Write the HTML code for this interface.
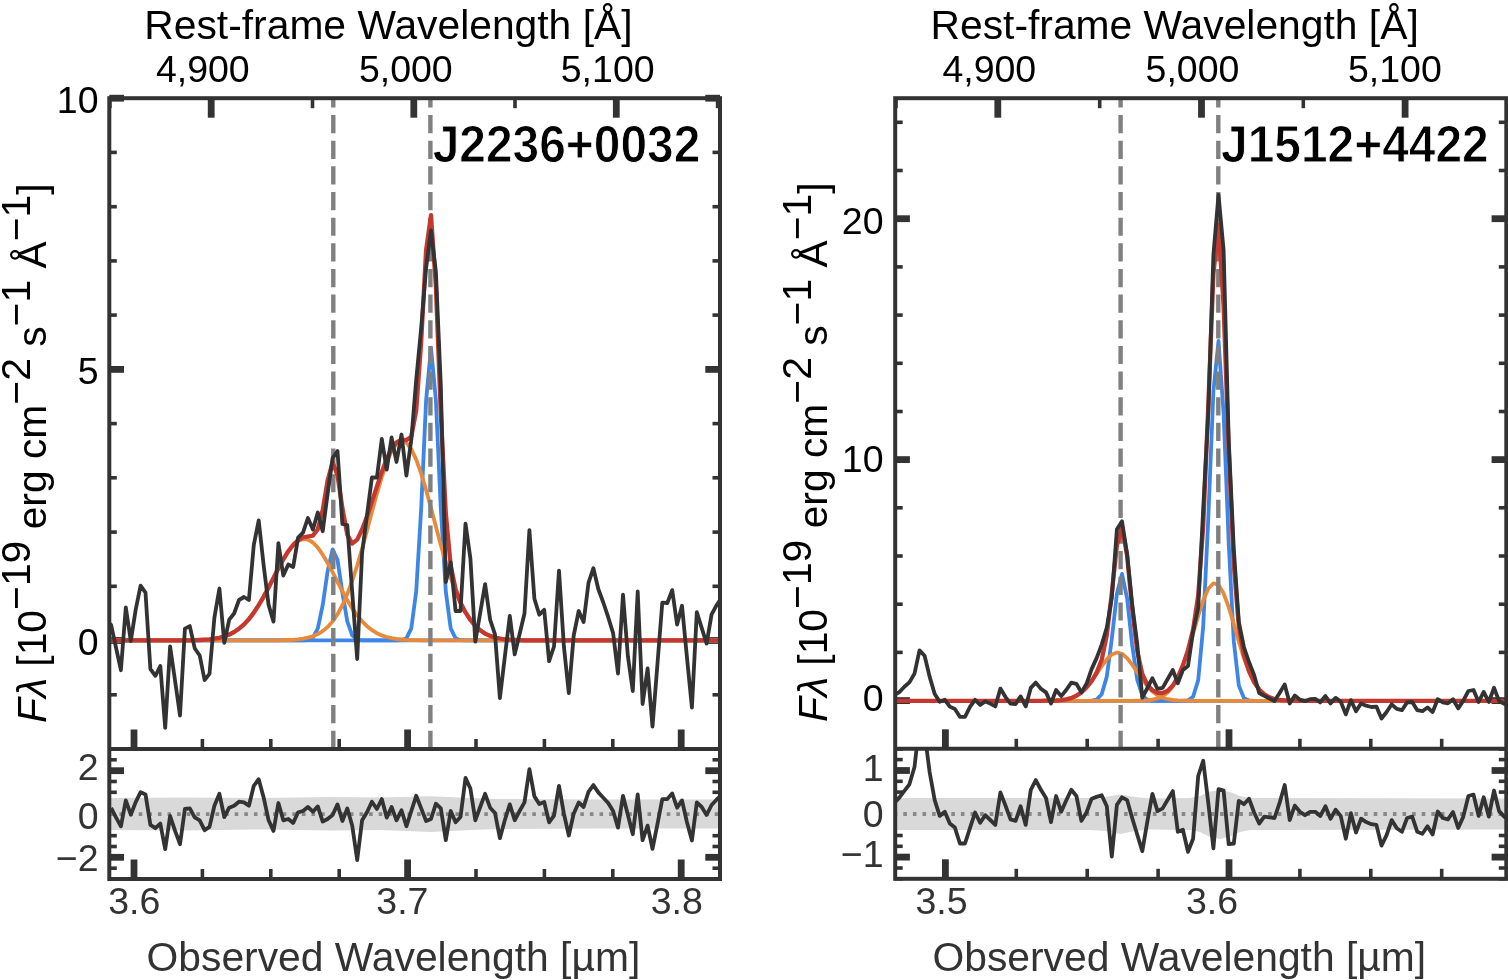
<!DOCTYPE html><html><head><meta charset="utf-8"><style>html,body{margin:0;padding:0;background:#fff;}svg{display:block;}</style></head><body><svg width="1508" height="980" viewBox="0 0 1508 980" font-family="'Liberation Sans', Arial, Helvetica, sans-serif">
<rect x="0" y="0" width="1508" height="980" fill="#fff"/>
<defs><clipPath id="c0"><rect x="109.3" y="98.2" width="610.7" height="650.8"/></clipPath><clipPath id="r0"><rect x="109.3" y="749.0" width="610.7" height="130.0"/></clipPath></defs>
<line x1="134.0" y1="749.0" x2="134.0" y2="729.5" stroke="#333333" stroke-width="6.8"/>
<line x1="134.0" y1="879.0" x2="134.0" y2="859.5" stroke="#333333" stroke-width="6.8"/>
<line x1="202.4" y1="749.0" x2="202.4" y2="739.0" stroke="#333333" stroke-width="3.6"/>
<line x1="202.4" y1="879.0" x2="202.4" y2="869.0" stroke="#333333" stroke-width="3.6"/>
<line x1="270.8" y1="749.0" x2="270.8" y2="739.0" stroke="#333333" stroke-width="3.6"/>
<line x1="270.8" y1="879.0" x2="270.8" y2="869.0" stroke="#333333" stroke-width="3.6"/>
<line x1="339.2" y1="749.0" x2="339.2" y2="739.0" stroke="#333333" stroke-width="3.6"/>
<line x1="339.2" y1="879.0" x2="339.2" y2="869.0" stroke="#333333" stroke-width="3.6"/>
<line x1="407.6" y1="749.0" x2="407.6" y2="729.5" stroke="#333333" stroke-width="6.8"/>
<line x1="407.6" y1="879.0" x2="407.6" y2="859.5" stroke="#333333" stroke-width="6.8"/>
<line x1="476.0" y1="749.0" x2="476.0" y2="739.0" stroke="#333333" stroke-width="3.6"/>
<line x1="476.0" y1="879.0" x2="476.0" y2="869.0" stroke="#333333" stroke-width="3.6"/>
<line x1="544.4" y1="749.0" x2="544.4" y2="739.0" stroke="#333333" stroke-width="3.6"/>
<line x1="544.4" y1="879.0" x2="544.4" y2="869.0" stroke="#333333" stroke-width="3.6"/>
<line x1="612.8" y1="749.0" x2="612.8" y2="739.0" stroke="#333333" stroke-width="3.6"/>
<line x1="612.8" y1="879.0" x2="612.8" y2="869.0" stroke="#333333" stroke-width="3.6"/>
<line x1="681.2" y1="749.0" x2="681.2" y2="729.5" stroke="#333333" stroke-width="6.8"/>
<line x1="681.2" y1="879.0" x2="681.2" y2="859.5" stroke="#333333" stroke-width="6.8"/>
<line x1="109.9" y1="98.2" x2="109.9" y2="108.2" stroke="#333333" stroke-width="3.6"/>
<line x1="211.2" y1="98.2" x2="211.2" y2="117.7" stroke="#333333" stroke-width="6.8"/>
<line x1="312.5" y1="98.2" x2="312.5" y2="108.2" stroke="#333333" stroke-width="3.6"/>
<line x1="413.8" y1="98.2" x2="413.8" y2="117.7" stroke="#333333" stroke-width="6.8"/>
<line x1="515.0" y1="98.2" x2="515.0" y2="108.2" stroke="#333333" stroke-width="3.6"/>
<line x1="616.3" y1="98.2" x2="616.3" y2="117.7" stroke="#333333" stroke-width="6.8"/>
<line x1="717.6" y1="98.2" x2="717.6" y2="108.2" stroke="#333333" stroke-width="3.6"/>
<line x1="109.3" y1="749.0" x2="116.8" y2="749.0" stroke="#333333" stroke-width="3.6"/>
<line x1="720.0" y1="749.0" x2="712.5" y2="749.0" stroke="#333333" stroke-width="3.6"/>
<line x1="109.3" y1="694.8" x2="116.8" y2="694.8" stroke="#333333" stroke-width="3.6"/>
<line x1="720.0" y1="694.8" x2="712.5" y2="694.8" stroke="#333333" stroke-width="3.6"/>
<line x1="109.3" y1="640.5" x2="124.0" y2="640.5" stroke="#333333" stroke-width="6.8"/>
<line x1="720.0" y1="640.5" x2="705.3" y2="640.5" stroke="#333333" stroke-width="6.8"/>
<line x1="109.3" y1="586.3" x2="116.8" y2="586.3" stroke="#333333" stroke-width="3.6"/>
<line x1="720.0" y1="586.3" x2="712.5" y2="586.3" stroke="#333333" stroke-width="3.6"/>
<line x1="109.3" y1="532.1" x2="116.8" y2="532.1" stroke="#333333" stroke-width="3.6"/>
<line x1="720.0" y1="532.1" x2="712.5" y2="532.1" stroke="#333333" stroke-width="3.6"/>
<line x1="109.3" y1="477.8" x2="116.8" y2="477.8" stroke="#333333" stroke-width="3.6"/>
<line x1="720.0" y1="477.8" x2="712.5" y2="477.8" stroke="#333333" stroke-width="3.6"/>
<line x1="109.3" y1="423.6" x2="116.8" y2="423.6" stroke="#333333" stroke-width="3.6"/>
<line x1="720.0" y1="423.6" x2="712.5" y2="423.6" stroke="#333333" stroke-width="3.6"/>
<line x1="109.3" y1="369.4" x2="124.0" y2="369.4" stroke="#333333" stroke-width="6.8"/>
<line x1="720.0" y1="369.4" x2="705.3" y2="369.4" stroke="#333333" stroke-width="6.8"/>
<line x1="109.3" y1="315.1" x2="116.8" y2="315.1" stroke="#333333" stroke-width="3.6"/>
<line x1="720.0" y1="315.1" x2="712.5" y2="315.1" stroke="#333333" stroke-width="3.6"/>
<line x1="109.3" y1="260.9" x2="116.8" y2="260.9" stroke="#333333" stroke-width="3.6"/>
<line x1="720.0" y1="260.9" x2="712.5" y2="260.9" stroke="#333333" stroke-width="3.6"/>
<line x1="109.3" y1="206.7" x2="116.8" y2="206.7" stroke="#333333" stroke-width="3.6"/>
<line x1="720.0" y1="206.7" x2="712.5" y2="206.7" stroke="#333333" stroke-width="3.6"/>
<line x1="109.3" y1="152.4" x2="116.8" y2="152.4" stroke="#333333" stroke-width="3.6"/>
<line x1="720.0" y1="152.4" x2="712.5" y2="152.4" stroke="#333333" stroke-width="3.6"/>
<line x1="109.3" y1="98.2" x2="124.0" y2="98.2" stroke="#333333" stroke-width="6.8"/>
<line x1="720.0" y1="98.2" x2="705.3" y2="98.2" stroke="#333333" stroke-width="6.8"/>
<line x1="109.3" y1="879.0" x2="116.8" y2="879.0" stroke="#333333" stroke-width="3.6"/>
<line x1="720.0" y1="879.0" x2="712.5" y2="879.0" stroke="#333333" stroke-width="3.6"/>
<line x1="109.3" y1="868.2" x2="116.8" y2="868.2" stroke="#333333" stroke-width="3.6"/>
<line x1="720.0" y1="868.2" x2="712.5" y2="868.2" stroke="#333333" stroke-width="3.6"/>
<line x1="109.3" y1="857.3" x2="124.0" y2="857.3" stroke="#333333" stroke-width="6.8"/>
<line x1="720.0" y1="857.3" x2="705.3" y2="857.3" stroke="#333333" stroke-width="6.8"/>
<line x1="109.3" y1="846.5" x2="116.8" y2="846.5" stroke="#333333" stroke-width="3.6"/>
<line x1="720.0" y1="846.5" x2="712.5" y2="846.5" stroke="#333333" stroke-width="3.6"/>
<line x1="109.3" y1="835.7" x2="116.8" y2="835.7" stroke="#333333" stroke-width="3.6"/>
<line x1="720.0" y1="835.7" x2="712.5" y2="835.7" stroke="#333333" stroke-width="3.6"/>
<line x1="109.3" y1="824.8" x2="116.8" y2="824.8" stroke="#333333" stroke-width="3.6"/>
<line x1="720.0" y1="824.8" x2="712.5" y2="824.8" stroke="#333333" stroke-width="3.6"/>
<line x1="109.3" y1="814.0" x2="124.0" y2="814.0" stroke="#333333" stroke-width="6.8"/>
<line x1="720.0" y1="814.0" x2="705.3" y2="814.0" stroke="#333333" stroke-width="6.8"/>
<line x1="109.3" y1="803.2" x2="116.8" y2="803.2" stroke="#333333" stroke-width="3.6"/>
<line x1="720.0" y1="803.2" x2="712.5" y2="803.2" stroke="#333333" stroke-width="3.6"/>
<line x1="109.3" y1="792.3" x2="116.8" y2="792.3" stroke="#333333" stroke-width="3.6"/>
<line x1="720.0" y1="792.3" x2="712.5" y2="792.3" stroke="#333333" stroke-width="3.6"/>
<line x1="109.3" y1="781.5" x2="116.8" y2="781.5" stroke="#333333" stroke-width="3.6"/>
<line x1="720.0" y1="781.5" x2="712.5" y2="781.5" stroke="#333333" stroke-width="3.6"/>
<line x1="109.3" y1="770.7" x2="124.0" y2="770.7" stroke="#333333" stroke-width="6.8"/>
<line x1="720.0" y1="770.7" x2="705.3" y2="770.7" stroke="#333333" stroke-width="6.8"/>
<line x1="109.3" y1="759.8" x2="116.8" y2="759.8" stroke="#333333" stroke-width="3.6"/>
<line x1="720.0" y1="759.8" x2="712.5" y2="759.8" stroke="#333333" stroke-width="3.6"/>
<line x1="109.3" y1="749.0" x2="116.8" y2="749.0" stroke="#333333" stroke-width="3.6"/>
<line x1="720.0" y1="749.0" x2="712.5" y2="749.0" stroke="#333333" stroke-width="3.6"/>
<g clip-path="url(#c0)">
<polyline points="101.2,640.4 106.1,640.4 111.1,640.4 116.0,640.4 120.9,640.4 125.8,640.4 130.8,640.4 135.7,640.4 140.6,640.4 145.5,640.4 150.4,640.4 155.4,640.4 160.3,640.4 165.2,640.4 170.1,640.4 175.1,640.4 180.0,640.4 184.9,640.4 189.8,640.4 194.7,640.4 199.7,640.4 204.6,640.4 209.5,640.4 214.4,640.4 219.4,640.4 224.3,640.4 229.2,640.4 234.1,640.4 239.0,640.4 244.0,640.4 248.9,640.4 253.8,640.4 258.7,640.4 263.7,640.4 268.6,640.4 273.5,640.4 278.4,640.4 283.3,640.4 288.3,640.4 293.2,640.4 298.1,640.4 303.0,640.4 307.9,640.0 312.9,637.6 317.8,628.3 322.7,605.2 327.6,571.3 332.6,549.4 337.5,559.9 342.4,592.6 347.3,621.4 352.2,635.3 357.2,639.5 362.1,640.3 367.0,640.4 371.9,640.4 376.9,640.4 381.8,640.4 386.7,640.4 391.6,640.4 396.5,640.4 401.5,640.4 406.4,640.4 411.3,640.4 416.2,640.4 421.2,640.4 426.1,640.4 431.0,640.4 435.9,640.4 440.8,640.4 445.8,640.4 450.7,640.4 455.6,640.4 460.5,640.4 465.5,640.4 470.4,640.4 475.3,640.4 480.2,640.4 485.1,640.4 490.1,640.4 495.0,640.4 499.9,640.4 504.8,640.4 509.8,640.4 514.7,640.4 519.6,640.4 524.5,640.4 529.4,640.4 534.4,640.4 539.3,640.4 544.2,640.4 549.1,640.4 554.0,640.4 559.0,640.4 563.9,640.4 568.8,640.4 573.7,640.4 578.7,640.4 583.6,640.4 588.5,640.4 593.4,640.4 598.3,640.4 603.3,640.4 608.2,640.4 613.1,640.4 618.0,640.4 623.0,640.4 627.9,640.4 632.8,640.4 637.7,640.4 642.6,640.4 647.6,640.4 652.5,640.4 657.4,640.4 662.3,640.4 667.3,640.4 672.2,640.4 677.1,640.4 682.0,640.4 686.9,640.4 691.9,640.4 696.8,640.4 701.7,640.4 706.6,640.4 711.6,640.4 716.5,640.4 721.4,640.4 726.3,640.4" fill="none" stroke="#3d86e8" stroke-width="3.8" stroke-linejoin="round"/>
<polyline points="101.2,640.4 106.1,640.4 111.1,640.4 116.0,640.4 120.9,640.4 125.8,640.4 130.8,640.4 135.7,640.4 140.6,640.4 145.5,640.4 150.4,640.4 155.4,640.4 160.3,640.4 165.2,640.4 170.1,640.4 175.1,640.4 180.0,640.4 184.9,640.4 189.8,640.4 194.7,640.4 199.7,640.4 204.6,640.4 209.5,640.4 214.4,640.4 219.4,640.4 224.3,640.4 229.2,640.4 234.1,640.4 239.0,640.4 244.0,640.4 248.9,640.4 253.8,640.4 258.7,640.4 263.7,640.4 268.6,640.4 273.5,640.4 278.4,640.4 283.3,640.4 288.3,640.4 293.2,640.4 298.1,640.4 303.0,640.4 307.9,640.4 312.9,640.4 317.8,640.4 322.7,640.4 327.6,640.4 332.6,640.4 337.5,640.4 342.4,640.4 347.3,640.4 352.2,640.4 357.2,640.4 362.1,640.4 367.0,640.4 371.9,640.4 376.9,640.4 381.8,640.4 386.7,640.4 391.6,640.4 396.5,640.4 401.5,640.2 406.4,638.4 411.3,628.3 416.2,591.6 421.2,508.3 426.1,400.4 431.0,347.6 435.9,400.4 440.8,508.3 445.8,591.6 450.7,628.3 455.6,638.4 460.5,640.2 465.5,640.4 470.4,640.4 475.3,640.4 480.2,640.4 485.1,640.4 490.1,640.4 495.0,640.4 499.9,640.4 504.8,640.4 509.8,640.4 514.7,640.4 519.6,640.4 524.5,640.4 529.4,640.4 534.4,640.4 539.3,640.4 544.2,640.4 549.1,640.4 554.0,640.4 559.0,640.4 563.9,640.4 568.8,640.4 573.7,640.4 578.7,640.4 583.6,640.4 588.5,640.4 593.4,640.4 598.3,640.4 603.3,640.4 608.2,640.4 613.1,640.4 618.0,640.4 623.0,640.4 627.9,640.4 632.8,640.4 637.7,640.4 642.6,640.4 647.6,640.4 652.5,640.4 657.4,640.4 662.3,640.4 667.3,640.4 672.2,640.4 677.1,640.4 682.0,640.4 686.9,640.4 691.9,640.4 696.8,640.4 701.7,640.4 706.6,640.4 711.6,640.4 716.5,640.4 721.4,640.4 726.3,640.4" fill="none" stroke="#3d86e8" stroke-width="3.8" stroke-linejoin="round"/>
<polyline points="101.2,640.4 106.1,640.4 111.1,640.4 116.0,640.4 120.9,640.4 125.8,640.4 130.8,640.4 135.7,640.4 140.6,640.4 145.5,640.4 150.4,640.4 155.4,640.4 160.3,640.4 165.2,640.4 170.1,640.4 175.1,640.4 180.0,640.4 184.9,640.3 189.8,640.3 194.7,640.2 199.7,640.0 204.6,639.7 209.5,639.3 214.4,638.7 219.4,637.8 224.3,636.4 229.2,634.6 234.1,632.0 239.0,628.7 244.0,624.4 248.9,619.1 253.8,612.6 258.7,605.1 263.7,596.7 268.6,587.5 273.5,577.9 278.4,568.4 283.3,559.5 288.3,551.6 293.2,545.3 298.1,541.1 303.0,539.1 307.9,539.6 312.9,542.5 317.8,547.6 322.7,554.6 327.6,563.0 332.6,572.2 337.5,581.8 342.4,591.2 347.3,600.2 352.2,608.3 357.2,615.3 362.1,621.3 367.0,626.2 371.9,630.1 376.9,633.2 381.8,635.4 386.7,637.0 391.6,638.2 396.5,639.0 401.5,639.5 406.4,639.9 411.3,640.1 416.2,640.2 421.2,640.3 426.1,640.3 431.0,640.4 435.9,640.4 440.8,640.4 445.8,640.4 450.7,640.4 455.6,640.4 460.5,640.4 465.5,640.4 470.4,640.4 475.3,640.4 480.2,640.4 485.1,640.4 490.1,640.4 495.0,640.4 499.9,640.4 504.8,640.4 509.8,640.4 514.7,640.4 519.6,640.4 524.5,640.4 529.4,640.4 534.4,640.4 539.3,640.4 544.2,640.4 549.1,640.4 554.0,640.4 559.0,640.4 563.9,640.4 568.8,640.4 573.7,640.4 578.7,640.4 583.6,640.4 588.5,640.4 593.4,640.4 598.3,640.4 603.3,640.4 608.2,640.4 613.1,640.4 618.0,640.4 623.0,640.4 627.9,640.4 632.8,640.4 637.7,640.4 642.6,640.4 647.6,640.4 652.5,640.4 657.4,640.4 662.3,640.4 667.3,640.4 672.2,640.4 677.1,640.4 682.0,640.4 686.9,640.4 691.9,640.4 696.8,640.4 701.7,640.4 706.6,640.4 711.6,640.4 716.5,640.4 721.4,640.4 726.3,640.4" fill="none" stroke="#e88a3a" stroke-width="3.8" stroke-linejoin="round"/>
<polyline points="101.2,640.4 106.1,640.4 111.1,640.4 116.0,640.4 120.9,640.4 125.8,640.4 130.8,640.4 135.7,640.4 140.6,640.4 145.5,640.4 150.4,640.4 155.4,640.4 160.3,640.4 165.2,640.4 170.1,640.4 175.1,640.4 180.0,640.4 184.9,640.4 189.8,640.4 194.7,640.4 199.7,640.4 204.6,640.4 209.5,640.4 214.4,640.4 219.4,640.4 224.3,640.4 229.2,640.4 234.1,640.4 239.0,640.4 244.0,640.4 248.9,640.4 253.8,640.4 258.7,640.4 263.7,640.4 268.6,640.4 273.5,640.3 278.4,640.3 283.3,640.2 288.3,640.0 293.2,639.8 298.1,639.4 303.0,638.7 307.9,637.7 312.9,636.3 317.8,634.1 322.7,631.1 327.6,627.0 332.6,621.5 337.5,614.3 342.4,605.2 347.3,594.0 352.2,580.8 357.2,565.6 362.1,548.7 367.0,530.6 371.9,512.0 376.9,493.8 381.8,476.9 386.7,462.4 391.6,451.1 396.5,443.7 401.5,440.9 406.4,442.7 411.3,449.1 416.2,459.6 421.2,473.6 426.1,490.0 431.0,508.0 435.9,526.6 440.8,544.9 445.8,562.1 450.7,577.7 455.6,591.4 460.5,602.9 465.5,612.5 470.4,620.0 475.3,625.9 480.2,630.3 485.1,633.6 490.1,635.9 495.0,637.5 499.9,638.5 504.8,639.3 509.8,639.7 514.7,640.0 519.6,640.2 524.5,640.3 529.4,640.3 534.4,640.4 539.3,640.4 544.2,640.4 549.1,640.4 554.0,640.4 559.0,640.4 563.9,640.4 568.8,640.4 573.7,640.4 578.7,640.4 583.6,640.4 588.5,640.4 593.4,640.4 598.3,640.4 603.3,640.4 608.2,640.4 613.1,640.4 618.0,640.4 623.0,640.4 627.9,640.4 632.8,640.4 637.7,640.4 642.6,640.4 647.6,640.4 652.5,640.4 657.4,640.4 662.3,640.4 667.3,640.4 672.2,640.4 677.1,640.4 682.0,640.4 686.9,640.4 691.9,640.4 696.8,640.4 701.7,640.4 706.6,640.4 711.6,640.4 716.5,640.4 721.4,640.4 726.3,640.4" fill="none" stroke="#e88a3a" stroke-width="3.8" stroke-linejoin="round"/>
<line x1="333.3" y1="89.4" x2="333.3" y2="749.0" stroke="#808080" stroke-width="4.4" stroke-dasharray="18.2 7.45"/>
<line x1="430.4" y1="89.4" x2="430.4" y2="749.0" stroke="#808080" stroke-width="4.4" stroke-dasharray="18.2 7.45"/>
<polyline points="101.2,640.4 106.1,640.4 111.1,640.4 116.0,640.4 120.9,640.4 125.8,640.4 130.8,640.4 135.7,640.4 140.6,640.4 145.5,640.4 150.4,640.4 155.4,640.4 160.3,640.4 165.2,640.4 170.1,640.4 175.1,640.4 180.0,640.4 184.9,640.3 189.8,640.3 194.7,640.2 199.7,640.0 204.6,639.7 209.5,639.3 214.4,638.7 219.4,637.8 224.3,636.4 229.2,634.6 234.1,632.0 239.0,628.7 244.0,624.4 248.9,619.1 253.8,612.6 258.7,605.1 263.7,596.6 268.6,587.4 273.5,577.9 278.4,568.3 283.3,559.3 288.3,551.2 293.2,544.7 298.1,540.0 303.0,537.4 307.9,536.5 312.9,535.6 317.8,529.3 322.7,510.1 327.6,480.5 332.6,462.3 337.5,475.2 342.4,508.2 347.3,534.7 352.2,543.6 357.2,539.6 362.1,529.5 367.0,516.5 371.9,501.8 376.9,486.6 381.8,471.9 386.7,459.0 391.6,448.8 396.5,442.3 401.5,439.7 406.4,440.1 411.3,436.7 416.2,410.6 421.2,341.4 426.1,250.0 431.0,215.2 435.9,286.6 440.8,412.8 445.8,513.3 450.7,565.6 455.6,589.3 460.5,602.7 465.5,612.4 470.4,620.0 475.3,625.9 480.2,630.3 485.1,633.6 490.1,635.9 495.0,637.5 499.9,638.5 504.8,639.3 509.8,639.7 514.7,640.0 519.6,640.2 524.5,640.3 529.4,640.3 534.4,640.4 539.3,640.4 544.2,640.4 549.1,640.4 554.0,640.4 559.0,640.4 563.9,640.4 568.8,640.4 573.7,640.4 578.7,640.4 583.6,640.4 588.5,640.4 593.4,640.4 598.3,640.4 603.3,640.4 608.2,640.4 613.1,640.4 618.0,640.4 623.0,640.4 627.9,640.4 632.8,640.4 637.7,640.4 642.6,640.4 647.6,640.4 652.5,640.4 657.4,640.4 662.3,640.4 667.3,640.4 672.2,640.4 677.1,640.4 682.0,640.4 686.9,640.4 691.9,640.4 696.8,640.4 701.7,640.4 706.6,640.4 711.6,640.4 716.5,640.4 721.4,640.4 726.3,640.4" fill="none" stroke="#c4382f" stroke-width="4.3" stroke-linejoin="round"/>
<polyline points="106.1,620.0 111.1,624.9 116.0,647.5 120.9,670.2 125.8,607.3 130.8,641.0 135.7,609.6 140.6,585.7 145.5,592.6 150.4,669.0 155.4,675.8 160.3,666.0 165.2,727.8 170.1,646.5 175.1,681.0 180.0,715.5 184.9,628.6 189.8,626.1 194.7,648.2 199.7,655.5 204.6,680.0 209.5,673.9 214.4,617.6 219.4,588.5 224.3,642.9 229.2,619.6 234.1,613.5 239.0,600.0 244.0,597.0 248.9,600.0 253.8,544.9 258.7,520.4 263.7,565.7 268.6,604.9 273.5,621.6 278.4,543.2 283.3,575.5 288.3,564.5 293.2,567.0 298.1,537.6 303.0,532.7 307.9,518.0 312.9,529.5 317.8,512.5 322.7,531.2 327.6,494.0 332.6,458.0 337.5,451.0 342.4,524.0 347.3,525.0 352.2,592.0 357.2,659.0 362.1,553.0 367.0,515.2 371.9,477.5 376.9,477.7 381.8,439.0 386.7,469.6 391.6,437.5 396.5,462.0 401.5,434.5 406.4,475.6 411.3,439.8 416.2,380.0 421.2,328.0 426.1,268.0 431.0,230.5 435.9,272.0 440.8,385.0 445.8,582.0 450.7,562.4 455.6,611.0 460.5,611.0 465.5,523.6 470.4,558.4 475.3,641.6 480.2,612.9 485.1,584.1 490.1,619.6 495.0,634.3 499.9,698.0 504.8,657.0 509.8,615.9 514.7,654.4 519.6,634.0 524.5,613.5 529.4,530.2 534.4,598.8 539.3,614.7 544.2,609.8 549.1,661.2 554.0,646.5 559.0,570.6 563.9,646.5 568.8,693.1 573.7,635.5 578.7,611.0 583.6,622.0 588.5,582.9 593.4,568.2 598.3,589.0 603.3,602.5 608.2,617.2 613.1,633.1 618.0,673.5 623.0,594.6 627.9,656.3 632.8,691.0 637.7,591.5 642.6,704.0 647.6,668.5 652.5,726.7 657.4,664.7 662.3,602.7 667.3,603.0 672.2,590.1 677.1,624.5 682.0,605.8 686.9,656.7 691.9,707.6 696.8,612.1 701.7,627.9 706.6,643.6 711.6,614.4 716.5,605.4 721.4,598.0" fill="none" stroke="#333333" stroke-width="3.8" stroke-linejoin="round"/>
</g>
<g clip-path="url(#r0)">
<polygon points="105.0,798.0 180.0,797.5 260.0,798.0 333.0,797.0 380.0,797.5 431.0,796.2 470.0,798.0 500.0,799.0 600.0,799.5 725.0,799.5 725.0,828.5 600.0,828.5 500.0,829.0 470.0,830.0 431.0,832.0 380.0,830.0 333.0,830.5 260.0,829.5 180.0,830.5 105.0,830.0" fill="#d9d9d9"/>
<line x1="109.3" y1="814.2" x2="720.0" y2="814.2" stroke="#888888" stroke-width="3.8" stroke-dasharray="3.6 6.0" stroke-dashoffset="9.0"/>
<polyline points="111.1,808.0 116.0,817.4 120.9,826.3 125.8,800.4 130.8,814.7 135.7,802.1 140.6,792.2 145.5,794.4 150.4,824.9 155.4,828.2 160.3,823.6 165.2,849.2 170.1,816.0 175.1,830.9 180.0,844.2 184.9,809.0 189.8,808.4 194.7,817.4 199.7,820.3 204.6,830.2 209.5,826.9 214.4,805.7 219.4,793.8 224.3,817.0 229.2,807.7 234.1,805.7 239.0,801.7 244.0,802.4 248.9,805.7 253.8,785.8 258.7,779.2 263.7,797.7 268.6,820.3 273.5,830.9 278.4,803.0 283.3,820.3 288.3,819.0 293.2,822.9 298.1,812.3 303.0,811.0 307.9,807.0 312.9,811.7 317.8,806.4 322.7,821.6 327.6,819.0 332.6,815.0 337.5,804.4 342.4,821.0 347.3,808.4 352.2,825.6 357.2,860.1 362.1,820.3 367.0,812.3 371.9,801.7 376.9,809.0 381.8,799.1 386.7,817.6 391.6,807.0 396.5,820.3 401.5,810.3 406.4,826.3 411.3,811.0 416.2,795.8 421.2,808.4 426.1,821.0 431.0,819.0 435.9,803.7 440.8,808.4 445.8,840.2 450.7,811.0 455.6,822.3 460.5,817.0 465.5,777.9 470.4,788.5 475.3,820.3 480.2,807.0 485.1,793.8 490.1,807.7 495.0,813.0 499.9,838.2 504.8,820.3 509.8,804.4 514.7,820.3 519.6,811.0 524.5,802.4 529.4,769.2 534.4,796.4 539.3,804.0 544.2,802.0 549.1,822.3 554.0,815.6 559.0,785.8 563.9,813.7 568.8,835.5 573.7,813.7 578.7,802.4 583.6,807.0 588.5,791.8 593.4,785.1 598.3,792.4 603.3,797.7 608.2,803.0 613.1,811.0 618.0,827.6 623.0,795.8 627.9,815.0 632.8,834.2 637.7,794.4 642.6,840.2 647.6,825.6 652.5,848.8 657.4,824.3 662.3,799.1 667.3,799.0 672.2,793.5 677.1,807.7 682.0,800.4 686.9,822.0 691.9,840.5 696.8,802.4 701.7,807.0 706.6,815.0 711.6,805.0 716.5,799.7 721.4,795.0" fill="none" stroke="#333333" stroke-width="3.8" stroke-linejoin="round"/>
</g>
<rect x="109.3" y="98.2" width="610.7" height="780.8" fill="none" stroke="#333333" stroke-width="4"/>
<line x1="109.3" y1="749.0" x2="720.0" y2="749.0" stroke="#333333" stroke-width="4"/>
<text x="202.8" y="82" font-size="37.5" text-anchor="middle" fill="#000">4,900</text>
<text x="405.8" y="82" font-size="37.5" text-anchor="middle" fill="#000">5,000</text>
<text x="607.7" y="82" font-size="37.5" text-anchor="middle" fill="#000">5,100</text>
<text x="134.2" y="913.6" font-size="37.5" text-anchor="middle" fill="#333">3.6</text>
<text x="402.4" y="913.6" font-size="37.5" text-anchor="middle" fill="#333">3.7</text>
<text x="676.7" y="913.6" font-size="37.5" text-anchor="middle" fill="#333">3.8</text>
<text x="98.5" y="112.5" font-size="37.5" text-anchor="end" fill="#000">10</text>
<text x="98.5" y="384.1" font-size="37.5" text-anchor="end" fill="#000">5</text>
<text x="98.5" y="655.0" font-size="37.5" text-anchor="end" fill="#000">0</text>
<text x="98.5" y="779.8" font-size="37.5" text-anchor="end" fill="#333">2</text>
<text x="98.5" y="829.1" font-size="37.5" text-anchor="end" fill="#333">0</text>
<text x="98.5" y="870.5" font-size="37.5" text-anchor="end" fill="#333">−2</text>
<text x="144.3" y="39" font-size="40.8" fill="#000">Rest-frame Wavelength [Å]</text>
<text x="146.6" y="970.5" font-size="40.8" fill="#333">Observed Wavelength [µm]</text>
<text transform="translate(45.5,723) rotate(-90)" font-size="40.8" fill="#000"><tspan font-style="italic">Fλ</tspan> [10<tspan dy="-16">−19</tspan><tspan dy="16"> erg cm</tspan><tspan dy="-16">−2</tspan><tspan dy="16"> s</tspan><tspan dy="-16">−1</tspan><tspan dy="16"> Å</tspan><tspan dy="-16">−1</tspan><tspan dy="16">]</tspan></text>
<text transform="translate(700.3,162) scale(0.93,1)" x="0" y="0" font-size="51.5" font-weight="bold" text-anchor="end" fill="#000" stroke="#fff" stroke-width="0.9">J2236+0032</text>
<defs><clipPath id="c1"><rect x="895.2" y="98.2" width="611.0999999999999" height="650.5999999999999"/></clipPath><clipPath id="r1"><rect x="895.2" y="748.8" width="611.0999999999999" height="130.0"/></clipPath></defs>
<line x1="945.4" y1="748.8" x2="945.4" y2="729.3" stroke="#333333" stroke-width="6.8"/>
<line x1="945.4" y1="878.8" x2="945.4" y2="859.3" stroke="#333333" stroke-width="6.8"/>
<line x1="1016.3" y1="748.8" x2="1016.3" y2="738.8" stroke="#333333" stroke-width="3.6"/>
<line x1="1016.3" y1="878.8" x2="1016.3" y2="868.8" stroke="#333333" stroke-width="3.6"/>
<line x1="1087.2" y1="748.8" x2="1087.2" y2="738.8" stroke="#333333" stroke-width="3.6"/>
<line x1="1087.2" y1="878.8" x2="1087.2" y2="868.8" stroke="#333333" stroke-width="3.6"/>
<line x1="1158.1" y1="748.8" x2="1158.1" y2="738.8" stroke="#333333" stroke-width="3.6"/>
<line x1="1158.1" y1="878.8" x2="1158.1" y2="868.8" stroke="#333333" stroke-width="3.6"/>
<line x1="1229.0" y1="748.8" x2="1229.0" y2="729.3" stroke="#333333" stroke-width="6.8"/>
<line x1="1229.0" y1="878.8" x2="1229.0" y2="859.3" stroke="#333333" stroke-width="6.8"/>
<line x1="1299.9" y1="748.8" x2="1299.9" y2="738.8" stroke="#333333" stroke-width="3.6"/>
<line x1="1299.9" y1="878.8" x2="1299.9" y2="868.8" stroke="#333333" stroke-width="3.6"/>
<line x1="1370.8" y1="748.8" x2="1370.8" y2="738.8" stroke="#333333" stroke-width="3.6"/>
<line x1="1370.8" y1="878.8" x2="1370.8" y2="868.8" stroke="#333333" stroke-width="3.6"/>
<line x1="1441.7" y1="748.8" x2="1441.7" y2="738.8" stroke="#333333" stroke-width="3.6"/>
<line x1="1441.7" y1="878.8" x2="1441.7" y2="868.8" stroke="#333333" stroke-width="3.6"/>
<line x1="896.0" y1="98.2" x2="896.0" y2="108.2" stroke="#333333" stroke-width="3.6"/>
<line x1="997.8" y1="98.2" x2="997.8" y2="117.7" stroke="#333333" stroke-width="6.8"/>
<line x1="1099.7" y1="98.2" x2="1099.7" y2="108.2" stroke="#333333" stroke-width="3.6"/>
<line x1="1201.5" y1="98.2" x2="1201.5" y2="117.7" stroke="#333333" stroke-width="6.8"/>
<line x1="1303.3" y1="98.2" x2="1303.3" y2="108.2" stroke="#333333" stroke-width="3.6"/>
<line x1="1405.1" y1="98.2" x2="1405.1" y2="117.7" stroke="#333333" stroke-width="6.8"/>
<line x1="895.2" y1="748.8" x2="902.7" y2="748.8" stroke="#333333" stroke-width="3.6"/>
<line x1="1506.3" y1="748.8" x2="1498.8" y2="748.8" stroke="#333333" stroke-width="3.6"/>
<line x1="895.2" y1="700.6" x2="909.9" y2="700.6" stroke="#333333" stroke-width="6.8"/>
<line x1="1506.3" y1="700.6" x2="1491.6" y2="700.6" stroke="#333333" stroke-width="6.8"/>
<line x1="895.2" y1="652.4" x2="902.7" y2="652.4" stroke="#333333" stroke-width="3.6"/>
<line x1="1506.3" y1="652.4" x2="1498.8" y2="652.4" stroke="#333333" stroke-width="3.6"/>
<line x1="895.2" y1="604.2" x2="902.7" y2="604.2" stroke="#333333" stroke-width="3.6"/>
<line x1="1506.3" y1="604.2" x2="1498.8" y2="604.2" stroke="#333333" stroke-width="3.6"/>
<line x1="895.2" y1="556.0" x2="902.7" y2="556.0" stroke="#333333" stroke-width="3.6"/>
<line x1="1506.3" y1="556.0" x2="1498.8" y2="556.0" stroke="#333333" stroke-width="3.6"/>
<line x1="895.2" y1="507.8" x2="902.7" y2="507.8" stroke="#333333" stroke-width="3.6"/>
<line x1="1506.3" y1="507.8" x2="1498.8" y2="507.8" stroke="#333333" stroke-width="3.6"/>
<line x1="895.2" y1="459.6" x2="909.9" y2="459.6" stroke="#333333" stroke-width="6.8"/>
<line x1="1506.3" y1="459.6" x2="1491.6" y2="459.6" stroke="#333333" stroke-width="6.8"/>
<line x1="895.2" y1="411.5" x2="902.7" y2="411.5" stroke="#333333" stroke-width="3.6"/>
<line x1="1506.3" y1="411.5" x2="1498.8" y2="411.5" stroke="#333333" stroke-width="3.6"/>
<line x1="895.2" y1="363.3" x2="902.7" y2="363.3" stroke="#333333" stroke-width="3.6"/>
<line x1="1506.3" y1="363.3" x2="1498.8" y2="363.3" stroke="#333333" stroke-width="3.6"/>
<line x1="895.2" y1="315.1" x2="902.7" y2="315.1" stroke="#333333" stroke-width="3.6"/>
<line x1="1506.3" y1="315.1" x2="1498.8" y2="315.1" stroke="#333333" stroke-width="3.6"/>
<line x1="895.2" y1="266.9" x2="902.7" y2="266.9" stroke="#333333" stroke-width="3.6"/>
<line x1="1506.3" y1="266.9" x2="1498.8" y2="266.9" stroke="#333333" stroke-width="3.6"/>
<line x1="895.2" y1="218.7" x2="909.9" y2="218.7" stroke="#333333" stroke-width="6.8"/>
<line x1="1506.3" y1="218.7" x2="1491.6" y2="218.7" stroke="#333333" stroke-width="6.8"/>
<line x1="895.2" y1="170.5" x2="902.7" y2="170.5" stroke="#333333" stroke-width="3.6"/>
<line x1="1506.3" y1="170.5" x2="1498.8" y2="170.5" stroke="#333333" stroke-width="3.6"/>
<line x1="895.2" y1="122.3" x2="902.7" y2="122.3" stroke="#333333" stroke-width="3.6"/>
<line x1="1506.3" y1="122.3" x2="1498.8" y2="122.3" stroke="#333333" stroke-width="3.6"/>
<line x1="895.2" y1="878.8" x2="902.7" y2="878.8" stroke="#333333" stroke-width="3.6"/>
<line x1="1506.3" y1="878.8" x2="1498.8" y2="878.8" stroke="#333333" stroke-width="3.6"/>
<line x1="895.2" y1="868.0" x2="902.7" y2="868.0" stroke="#333333" stroke-width="3.6"/>
<line x1="1506.3" y1="868.0" x2="1498.8" y2="868.0" stroke="#333333" stroke-width="3.6"/>
<line x1="895.2" y1="857.1" x2="909.9" y2="857.1" stroke="#333333" stroke-width="6.8"/>
<line x1="1506.3" y1="857.1" x2="1491.6" y2="857.1" stroke="#333333" stroke-width="6.8"/>
<line x1="895.2" y1="846.3" x2="902.7" y2="846.3" stroke="#333333" stroke-width="3.6"/>
<line x1="1506.3" y1="846.3" x2="1498.8" y2="846.3" stroke="#333333" stroke-width="3.6"/>
<line x1="895.2" y1="835.5" x2="902.7" y2="835.5" stroke="#333333" stroke-width="3.6"/>
<line x1="1506.3" y1="835.5" x2="1498.8" y2="835.5" stroke="#333333" stroke-width="3.6"/>
<line x1="895.2" y1="824.6" x2="902.7" y2="824.6" stroke="#333333" stroke-width="3.6"/>
<line x1="1506.3" y1="824.6" x2="1498.8" y2="824.6" stroke="#333333" stroke-width="3.6"/>
<line x1="895.2" y1="813.8" x2="909.9" y2="813.8" stroke="#333333" stroke-width="6.8"/>
<line x1="1506.3" y1="813.8" x2="1491.6" y2="813.8" stroke="#333333" stroke-width="6.8"/>
<line x1="895.2" y1="803.0" x2="902.7" y2="803.0" stroke="#333333" stroke-width="3.6"/>
<line x1="1506.3" y1="803.0" x2="1498.8" y2="803.0" stroke="#333333" stroke-width="3.6"/>
<line x1="895.2" y1="792.1" x2="902.7" y2="792.1" stroke="#333333" stroke-width="3.6"/>
<line x1="1506.3" y1="792.1" x2="1498.8" y2="792.1" stroke="#333333" stroke-width="3.6"/>
<line x1="895.2" y1="781.3" x2="902.7" y2="781.3" stroke="#333333" stroke-width="3.6"/>
<line x1="1506.3" y1="781.3" x2="1498.8" y2="781.3" stroke="#333333" stroke-width="3.6"/>
<line x1="895.2" y1="770.5" x2="909.9" y2="770.5" stroke="#333333" stroke-width="6.8"/>
<line x1="1506.3" y1="770.5" x2="1491.6" y2="770.5" stroke="#333333" stroke-width="6.8"/>
<line x1="895.2" y1="759.6" x2="902.7" y2="759.6" stroke="#333333" stroke-width="3.6"/>
<line x1="1506.3" y1="759.6" x2="1498.8" y2="759.6" stroke="#333333" stroke-width="3.6"/>
<line x1="895.2" y1="748.8" x2="902.7" y2="748.8" stroke="#333333" stroke-width="3.6"/>
<line x1="1506.3" y1="748.8" x2="1498.8" y2="748.8" stroke="#333333" stroke-width="3.6"/>
<g clip-path="url(#c1)">
<polyline points="889.2,700.8 894.3,700.8 899.3,700.8 904.4,700.8 909.4,700.8 914.5,700.8 919.5,700.8 924.6,700.8 929.6,700.8 934.7,700.8 939.7,700.8 944.8,700.8 949.8,700.8 954.9,700.8 959.9,700.8 965.0,700.8 970.1,700.8 975.1,700.8 980.2,700.8 985.2,700.8 990.3,700.8 995.3,700.8 1000.4,700.8 1005.5,700.8 1010.5,700.8 1015.6,700.8 1020.6,700.8 1025.7,700.8 1030.8,700.8 1035.8,700.8 1040.9,700.8 1046.0,700.8 1051.0,700.8 1056.1,700.8 1061.2,700.8 1066.2,700.8 1071.3,700.8 1076.4,700.8 1081.4,700.8 1086.5,700.8 1091.6,700.7 1096.6,699.6 1101.7,694.3 1106.8,676.6 1111.8,639.1 1116.9,593.7 1122.0,573.9 1127.1,598.3 1132.1,644.4 1137.2,679.6 1142.3,695.4 1147.4,699.9 1152.4,700.7 1157.5,700.8 1162.6,700.8 1167.7,700.8 1172.8,700.8 1177.8,700.8 1182.9,700.8 1188.0,700.8 1193.1,700.8 1198.2,700.8 1203.2,700.8 1208.3,700.8 1213.4,700.8 1218.5,700.8 1223.6,700.8 1228.7,700.8 1233.8,700.8 1238.8,700.8 1243.9,700.8 1249.0,700.8 1254.1,700.8 1259.2,700.8 1264.3,700.8 1269.4,700.8 1274.5,700.8 1279.6,700.8 1284.7,700.8 1289.7,700.8 1294.8,700.8 1299.9,700.8 1305.0,700.8 1310.1,700.8 1315.2,700.8 1320.3,700.8 1325.4,700.8 1330.5,700.8 1335.6,700.8 1340.7,700.8 1345.8,700.8 1350.9,700.8 1356.0,700.8 1361.1,700.8 1366.2,700.8 1371.3,700.8 1376.4,700.8 1381.5,700.8 1386.6,700.8 1391.7,700.8 1396.8,700.8 1401.9,700.8 1407.1,700.8 1412.2,700.8 1417.3,700.8 1422.4,700.8 1427.5,700.8 1432.6,700.8 1437.7,700.8 1442.8,700.8 1447.9,700.8 1453.0,700.8 1458.2,700.8 1463.3,700.8 1468.4,700.8 1473.5,700.8 1478.6,700.8 1483.7,700.8 1488.8,700.8 1494.0,700.8 1499.1,700.8 1504.2,700.8 1509.3,700.8 1514.4,700.8" fill="none" stroke="#3d86e8" stroke-width="3.8" stroke-linejoin="round"/>
<polyline points="889.2,700.8 894.3,700.8 899.3,700.8 904.4,700.8 909.4,700.8 914.5,700.8 919.5,700.8 924.6,700.8 929.6,700.8 934.7,700.8 939.7,700.8 944.8,700.8 949.8,700.8 954.9,700.8 959.9,700.8 965.0,700.8 970.1,700.8 975.1,700.8 980.2,700.8 985.2,700.8 990.3,700.8 995.3,700.8 1000.4,700.8 1005.5,700.8 1010.5,700.8 1015.6,700.8 1020.6,700.8 1025.7,700.8 1030.8,700.8 1035.8,700.8 1040.9,700.8 1046.0,700.8 1051.0,700.8 1056.1,700.8 1061.2,700.8 1066.2,700.8 1071.3,700.8 1076.4,700.8 1081.4,700.8 1086.5,700.8 1091.6,700.8 1096.6,700.8 1101.7,700.8 1106.8,700.8 1111.8,700.8 1116.9,700.8 1122.0,700.8 1127.1,700.8 1132.1,700.8 1137.2,700.8 1142.3,700.8 1147.4,700.8 1152.4,700.8 1157.5,700.8 1162.6,700.8 1167.7,700.8 1172.8,700.8 1177.8,700.8 1182.9,700.8 1188.0,700.3 1193.1,696.8 1198.2,680.1 1203.2,626.5 1208.3,517.9 1213.4,391.4 1218.5,341.0 1223.6,413.4 1228.7,543.1 1233.8,641.4 1238.8,685.4 1243.9,698.1 1249.0,700.5 1254.1,700.8 1259.2,700.8 1264.3,700.8 1269.4,700.8 1274.5,700.8 1279.6,700.8 1284.7,700.8 1289.7,700.8 1294.8,700.8 1299.9,700.8 1305.0,700.8 1310.1,700.8 1315.2,700.8 1320.3,700.8 1325.4,700.8 1330.5,700.8 1335.6,700.8 1340.7,700.8 1345.8,700.8 1350.9,700.8 1356.0,700.8 1361.1,700.8 1366.2,700.8 1371.3,700.8 1376.4,700.8 1381.5,700.8 1386.6,700.8 1391.7,700.8 1396.8,700.8 1401.9,700.8 1407.1,700.8 1412.2,700.8 1417.3,700.8 1422.4,700.8 1427.5,700.8 1432.6,700.8 1437.7,700.8 1442.8,700.8 1447.9,700.8 1453.0,700.8 1458.2,700.8 1463.3,700.8 1468.4,700.8 1473.5,700.8 1478.6,700.8 1483.7,700.8 1488.8,700.8 1494.0,700.8 1499.1,700.8 1504.2,700.8 1509.3,700.8 1514.4,700.8" fill="none" stroke="#3d86e8" stroke-width="3.8" stroke-linejoin="round"/>
<polyline points="889.2,700.8 894.3,700.8 899.3,700.8 904.4,700.8 909.4,700.8 914.5,700.8 919.5,700.8 924.6,700.8 929.6,700.8 934.7,700.8 939.7,700.8 944.8,700.8 949.8,700.8 954.9,700.8 959.9,700.8 965.0,700.8 970.1,700.8 975.1,700.8 980.2,700.8 985.2,700.8 990.3,700.8 995.3,700.8 1000.4,700.8 1005.5,700.8 1010.5,700.8 1015.6,700.8 1020.6,700.8 1025.7,700.8 1030.8,700.8 1035.8,700.8 1040.9,700.8 1046.0,700.7 1051.0,700.7 1056.1,700.5 1061.2,700.1 1066.2,699.4 1071.3,698.1 1076.4,695.8 1081.4,692.4 1086.5,687.5 1091.6,681.2 1096.6,673.9 1101.7,666.3 1106.8,659.4 1111.8,654.5 1116.9,652.5 1122.0,653.8 1127.1,658.1 1132.1,664.6 1137.2,672.1 1142.3,679.6 1147.4,686.2 1152.4,691.4 1157.5,695.2 1162.6,697.7 1167.7,699.2 1172.8,700.0 1177.8,700.4 1182.9,700.6 1188.0,700.7 1193.1,700.8 1198.2,700.8 1203.2,700.8 1208.3,700.8 1213.4,700.8 1218.5,700.8 1223.6,700.8 1228.7,700.8 1233.8,700.8 1238.8,700.8 1243.9,700.8 1249.0,700.8 1254.1,700.8 1259.2,700.8 1264.3,700.8 1269.4,700.8 1274.5,700.8 1279.6,700.8 1284.7,700.8 1289.7,700.8 1294.8,700.8 1299.9,700.8 1305.0,700.8 1310.1,700.8 1315.2,700.8 1320.3,700.8 1325.4,700.8 1330.5,700.8 1335.6,700.8 1340.7,700.8 1345.8,700.8 1350.9,700.8 1356.0,700.8 1361.1,700.8 1366.2,700.8 1371.3,700.8 1376.4,700.8 1381.5,700.8 1386.6,700.8 1391.7,700.8 1396.8,700.8 1401.9,700.8 1407.1,700.8 1412.2,700.8 1417.3,700.8 1422.4,700.8 1427.5,700.8 1432.6,700.8 1437.7,700.8 1442.8,700.8 1447.9,700.8 1453.0,700.8 1458.2,700.8 1463.3,700.8 1468.4,700.8 1473.5,700.8 1478.6,700.8 1483.7,700.8 1488.8,700.8 1494.0,700.8 1499.1,700.8 1504.2,700.8 1509.3,700.8 1514.4,700.8" fill="none" stroke="#e88a3a" stroke-width="3.8" stroke-linejoin="round"/>
<polyline points="889.2,700.8 894.3,700.8 899.3,700.8 904.4,700.8 909.4,700.8 914.5,700.8 919.5,700.8 924.6,700.8 929.6,700.8 934.7,700.8 939.7,700.8 944.8,700.8 949.8,700.8 954.9,700.8 959.9,700.8 965.0,700.8 970.1,700.8 975.1,700.8 980.2,700.8 985.2,700.8 990.3,700.8 995.3,700.8 1000.4,700.8 1005.5,700.8 1010.5,700.8 1015.6,700.8 1020.6,700.8 1025.7,700.8 1030.8,700.8 1035.8,700.8 1040.9,700.8 1046.0,700.8 1051.0,700.8 1056.1,700.8 1061.2,700.8 1066.2,700.8 1071.3,700.8 1076.4,700.8 1081.4,700.8 1086.5,700.8 1091.6,700.8 1096.6,700.8 1101.7,700.8 1106.8,700.8 1111.8,700.8 1116.9,700.8 1122.0,700.8 1127.1,700.8 1132.1,700.8 1137.2,700.7 1142.3,700.6 1147.4,700.3 1152.4,699.6 1157.5,698.4 1162.6,696.2 1167.7,692.4 1172.8,686.4 1177.8,677.6 1182.9,665.6 1188.0,650.7 1193.1,633.6 1198.2,616.0 1203.2,600.3 1208.3,588.7 1213.4,583.3 1218.5,584.9 1223.6,593.3 1228.7,607.1 1233.8,624.0 1238.8,641.6 1243.9,657.9 1249.0,671.6 1254.1,682.1 1259.2,689.5 1264.3,694.4 1269.4,697.4 1274.5,699.1 1279.6,700.0 1284.7,700.4 1289.7,700.7 1294.8,700.7 1299.9,700.8 1305.0,700.8 1310.1,700.8 1315.2,700.8 1320.3,700.8 1325.4,700.8 1330.5,700.8 1335.6,700.8 1340.7,700.8 1345.8,700.8 1350.9,700.8 1356.0,700.8 1361.1,700.8 1366.2,700.8 1371.3,700.8 1376.4,700.8 1381.5,700.8 1386.6,700.8 1391.7,700.8 1396.8,700.8 1401.9,700.8 1407.1,700.8 1412.2,700.8 1417.3,700.8 1422.4,700.8 1427.5,700.8 1432.6,700.8 1437.7,700.8 1442.8,700.8 1447.9,700.8 1453.0,700.8 1458.2,700.8 1463.3,700.8 1468.4,700.8 1473.5,700.8 1478.6,700.8 1483.7,700.8 1488.8,700.8 1494.0,700.8 1499.1,700.8 1504.2,700.8 1509.3,700.8 1514.4,700.8" fill="none" stroke="#e88a3a" stroke-width="3.8" stroke-linejoin="round"/>
<line x1="1120.6" y1="89.4" x2="1120.6" y2="748.8" stroke="#808080" stroke-width="4.4" stroke-dasharray="18.2 7.45"/>
<line x1="1218.3" y1="89.4" x2="1218.3" y2="748.8" stroke="#808080" stroke-width="4.4" stroke-dasharray="18.2 7.45"/>
<polyline points="889.2,700.8 894.3,700.8 899.3,700.8 904.4,700.8 909.4,700.8 914.5,700.8 919.5,700.8 924.6,700.8 929.6,700.8 934.7,700.8 939.7,700.8 944.8,700.8 949.8,700.8 954.9,700.8 959.9,700.8 965.0,700.8 970.1,700.8 975.1,700.8 980.2,700.8 985.2,700.8 990.3,700.8 995.3,700.8 1000.4,700.8 1005.5,700.8 1010.5,700.8 1015.6,700.8 1020.6,700.8 1025.7,700.8 1030.8,700.8 1035.8,700.8 1040.9,700.8 1046.0,700.7 1051.0,700.7 1056.1,700.5 1061.2,700.1 1066.2,699.4 1071.3,698.1 1076.4,695.8 1081.4,692.4 1086.5,687.5 1091.6,681.1 1096.6,672.7 1101.7,659.8 1106.8,635.2 1111.8,592.9 1116.9,545.4 1122.0,526.9 1127.1,555.6 1132.1,608.1 1137.2,650.9 1142.3,674.0 1147.4,684.7 1152.4,690.2 1157.5,692.8 1162.6,693.0 1167.7,690.8 1172.8,685.6 1177.8,677.2 1182.9,665.4 1188.0,650.1 1193.1,629.6 1198.2,595.3 1203.2,526.0 1208.3,405.9 1213.4,273.8 1218.5,225.1 1223.6,305.9 1228.7,449.4 1233.8,564.5 1238.8,626.2 1243.9,655.1 1249.0,671.2 1254.1,682.0 1259.2,689.5 1264.3,694.4 1269.4,697.4 1274.5,699.1 1279.6,700.0 1284.7,700.4 1289.7,700.7 1294.8,700.7 1299.9,700.8 1305.0,700.8 1310.1,700.8 1315.2,700.8 1320.3,700.8 1325.4,700.8 1330.5,700.8 1335.6,700.8 1340.7,700.8 1345.8,700.8 1350.9,700.8 1356.0,700.8 1361.1,700.8 1366.2,700.8 1371.3,700.8 1376.4,700.8 1381.5,700.8 1386.6,700.8 1391.7,700.8 1396.8,700.8 1401.9,700.8 1407.1,700.8 1412.2,700.8 1417.3,700.8 1422.4,700.8 1427.5,700.8 1432.6,700.8 1437.7,700.8 1442.8,700.8 1447.9,700.8 1453.0,700.8 1458.2,700.8 1463.3,700.8 1468.4,700.8 1473.5,700.8 1478.6,700.8 1483.7,700.8 1488.8,700.8 1494.0,700.8 1499.1,700.8 1504.2,700.8 1509.3,700.8 1514.4,700.8" fill="none" stroke="#c4382f" stroke-width="4.3" stroke-linejoin="round"/>
<polyline points="894.3,695.0 899.3,692.1 904.4,686.7 909.4,682.4 914.5,673.6 919.5,650.4 924.6,655.7 929.6,676.6 934.7,694.0 939.7,701.8 944.8,699.8 949.8,706.6 954.9,709.0 959.9,716.8 965.0,716.8 970.1,706.6 975.1,699.8 980.2,705.0 985.2,701.4 990.3,703.6 995.3,706.4 1000.4,688.6 1005.5,697.1 1010.5,703.6 1015.6,704.0 1020.6,696.4 1025.7,706.4 1030.8,687.9 1035.8,682.6 1040.9,688.7 1046.0,692.4 1051.0,703.4 1056.1,690.0 1061.2,696.1 1066.2,690.0 1071.3,682.6 1076.4,683.8 1081.4,692.4 1086.5,683.8 1091.6,669.1 1096.6,658.1 1101.7,644.6 1106.8,627.5 1111.8,598.0 1116.9,529.2 1122.0,521.3 1127.1,554.0 1132.1,603.4 1137.2,643.8 1142.3,697.7 1147.4,688.0 1152.4,678.2 1157.5,688.9 1162.6,687.9 1167.7,679.0 1172.8,670.0 1177.8,683.3 1182.9,670.0 1188.0,665.9 1193.1,631.7 1198.2,608.0 1203.2,509.0 1208.3,412.0 1213.4,255.0 1218.5,195.0 1223.6,250.0 1228.7,440.0 1233.8,549.0 1238.8,622.0 1243.9,647.0 1249.0,662.0 1254.1,675.0 1259.2,693.0 1264.3,695.9 1269.4,698.5 1274.5,701.0 1279.6,693.0 1284.7,684.4 1289.7,703.5 1294.8,695.6 1299.9,699.7 1305.0,701.1 1310.1,699.2 1315.2,698.8 1320.3,702.4 1325.4,696.0 1330.5,703.4 1335.6,697.9 1340.7,701.5 1345.8,714.4 1350.9,700.1 1356.0,711.2 1361.1,703.4 1366.2,705.7 1371.3,707.0 1376.4,706.6 1381.5,718.5 1386.6,712.0 1391.7,704.3 1396.8,708.9 1401.9,710.2 1407.1,702.4 1412.2,702.0 1417.3,710.2 1422.4,711.2 1427.5,707.5 1432.6,712.1 1437.7,699.2 1442.8,702.4 1447.9,703.4 1453.0,699.2 1458.2,708.4 1463.3,700.6 1468.4,691.0 1473.5,690.0 1478.6,702.0 1483.7,691.9 1488.8,702.0 1494.0,687.8 1499.1,701.1 1504.2,703.8 1509.3,705.0" fill="none" stroke="#333333" stroke-width="3.8" stroke-linejoin="round"/>
</g>
<g clip-path="url(#r1)">
<polygon points="890.0,798.0 1000.0,798.0 1090.0,798.0 1105.0,797.0 1120.0,794.5 1135.0,797.0 1150.0,798.5 1190.0,798.0 1200.0,796.0 1210.0,791.5 1220.0,790.5 1230.0,792.0 1240.0,796.0 1250.0,798.0 1510.0,798.5 1510.0,829.5 1250.0,830.0 1240.0,832.0 1230.0,836.5 1220.0,839.0 1210.0,837.0 1200.0,832.0 1190.0,830.0 1150.0,829.5 1135.0,831.0 1120.0,834.0 1105.0,831.0 1090.0,830.0 1000.0,830.0 890.0,830.0" fill="#d9d9d9"/>
<line x1="895.2" y1="814.0" x2="1506.3" y2="814.0" stroke="#888888" stroke-width="3.8" stroke-dasharray="3.6 6.0" stroke-dashoffset="1.5"/>
<polyline points="894.3,803.0 899.3,797.6 904.4,790.9 909.4,784.3 914.5,767.0 919.5,723.0 924.6,732.9 929.6,772.0 934.7,800.1 939.7,815.9 944.8,811.8 949.8,823.5 954.9,827.6 959.9,843.5 965.0,843.5 970.1,827.6 975.1,812.5 980.2,822.8 985.2,815.2 990.3,820.0 995.3,824.9 1000.4,792.5 1005.5,805.6 1010.5,819.4 1015.6,820.8 1020.6,806.3 1025.7,824.9 1030.8,789.8 1035.8,780.1 1040.9,789.8 1046.0,798.0 1051.0,822.1 1056.1,796.0 1061.2,811.8 1066.2,800.6 1071.3,789.8 1076.4,796.0 1081.4,820.8 1086.5,812.5 1091.6,798.7 1096.6,796.9 1101.7,795.3 1106.8,806.3 1111.8,856.6 1116.9,804.9 1122.0,797.3 1127.1,800.1 1132.1,817.7 1137.2,834.5 1142.3,851.1 1147.4,821.3 1152.4,793.9 1157.5,811.1 1162.6,808.4 1167.7,799.8 1172.8,791.1 1177.8,831.8 1182.9,829.7 1188.0,851.8 1193.1,838.7 1198.2,776.0 1203.2,760.8 1208.3,803.0 1213.4,848.3 1218.5,789.1 1223.6,790.5 1228.7,844.2 1233.8,843.5 1238.8,800.8 1243.9,804.2 1249.0,798.7 1254.1,812.5 1259.2,823.5 1264.3,816.6 1269.4,817.3 1274.5,818.0 1279.6,802.9 1284.7,785.0 1289.7,820.1 1294.8,805.6 1299.9,811.8 1305.0,815.2 1310.1,811.8 1315.2,811.8 1320.3,816.0 1325.4,806.3 1330.5,818.7 1335.6,809.7 1340.7,815.9 1345.8,838.7 1350.9,813.2 1356.0,832.5 1361.1,818.7 1366.2,822.1 1371.3,824.2 1376.4,824.9 1381.5,845.6 1386.6,835.2 1391.7,820.1 1396.8,828.3 1401.9,831.8 1407.1,818.0 1412.2,816.6 1417.3,831.8 1422.4,833.8 1427.5,826.3 1432.6,834.5 1437.7,811.5 1442.8,818.0 1447.9,819.4 1453.0,812.0 1458.2,828.0 1463.3,816.6 1468.4,796.0 1473.5,794.6 1478.6,815.9 1483.7,797.3 1488.8,816.6 1494.0,790.5 1499.1,811.1 1504.2,816.6 1509.3,820.0" fill="none" stroke="#333333" stroke-width="3.8" stroke-linejoin="round"/>
</g>
<rect x="895.2" y="98.2" width="611.1" height="780.6" fill="none" stroke="#333333" stroke-width="4"/>
<line x1="895.2" y1="748.8" x2="1506.3" y2="748.8" stroke="#333333" stroke-width="4"/>
<text x="989.3" y="82" font-size="37.5" text-anchor="middle" fill="#000">4,900</text>
<text x="1192.5" y="82" font-size="37.5" text-anchor="middle" fill="#000">5,000</text>
<text x="1394.9" y="82" font-size="37.5" text-anchor="middle" fill="#000">5,100</text>
<text x="941.5" y="913.6" font-size="37.5" text-anchor="middle" fill="#333">3.5</text>
<text x="1212.1" y="913.6" font-size="37.5" text-anchor="middle" fill="#333">3.6</text>
<text x="883.5" y="233.5" font-size="37.5" text-anchor="end" fill="#000">20</text>
<text x="883.5" y="472.1" font-size="37.5" text-anchor="end" fill="#000">10</text>
<text x="883.5" y="710.9" font-size="37.5" text-anchor="end" fill="#000">0</text>
<text x="883.5" y="780.6" font-size="37.5" text-anchor="end" fill="#333">1</text>
<text x="883.5" y="827.4" font-size="37.5" text-anchor="end" fill="#333">0</text>
<text x="883.5" y="867.4" font-size="37.5" text-anchor="end" fill="#333">−1</text>
<text x="930.5" y="39" font-size="40.8" fill="#000">Rest-frame Wavelength [Å]</text>
<text x="932.5" y="970.5" font-size="40.8" fill="#333">Observed Wavelength [µm]</text>
<text transform="translate(827,722) rotate(-90)" font-size="40.8" fill="#000"><tspan font-style="italic">Fλ</tspan> [10<tspan dy="-16">−19</tspan><tspan dy="16"> erg cm</tspan><tspan dy="-16">−2</tspan><tspan dy="16"> s</tspan><tspan dy="-16">−1</tspan><tspan dy="16"> Å</tspan><tspan dy="-16">−1</tspan><tspan dy="16">]</tspan></text>
<text transform="translate(1488.7,162) scale(0.93,1)" x="0" y="0" font-size="51.5" font-weight="bold" text-anchor="end" fill="#000" stroke="#fff" stroke-width="0.9">J1512+4422</text>
</svg></body></html>
